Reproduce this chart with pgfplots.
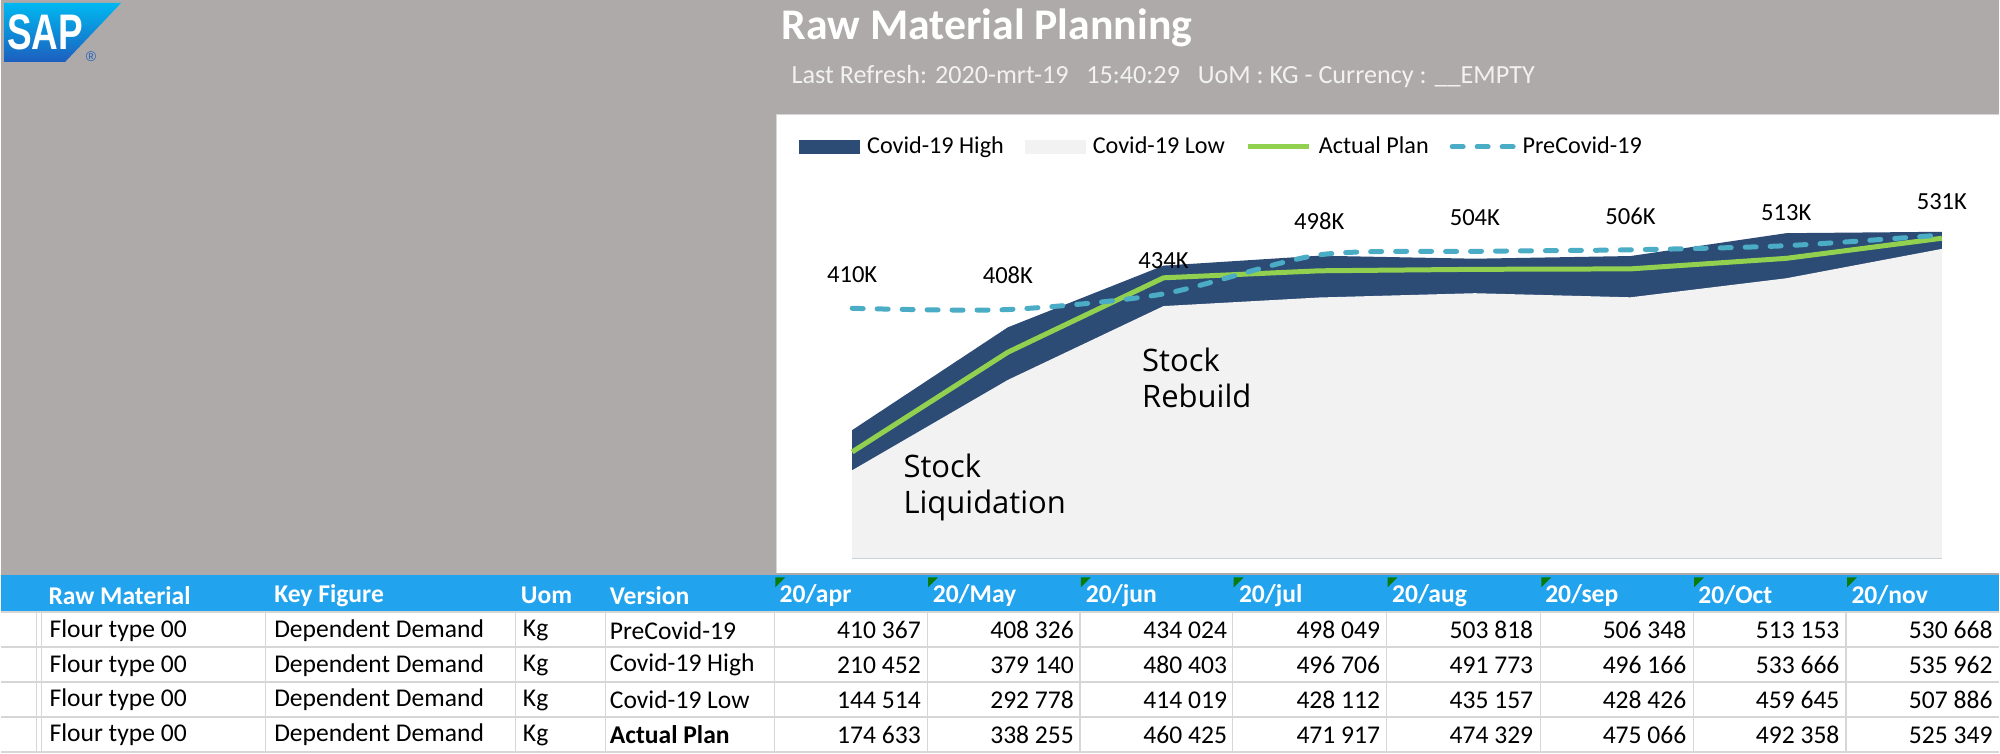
\documentclass[border=0pt]{standalone}
\usepackage{pgfplots}
\pgfplotsset{compat=1.18}
\usepackage{pgfplotstable}
\usepackage{fontspec}
\setmainfont{Carlito}
\newfontfamily\segoe{Open Sans}
\newfontfamily\arial{Liberation Sans}

\definecolor{bg}{HTML}{AEAAA9}
\definecolor{covhigh}{HTML}{2D4C75}
\definecolor{covlow}{HTML}{F2F2F2}
\definecolor{plan}{HTML}{92D050}
\definecolor{precov}{HTML}{4BACC6}
\definecolor{hdr}{HTML}{22A3EE}
\definecolor{gridc}{HTML}{D6D6D6}
\definecolor{tri}{HTML}{0A7A0A}
\definecolor{saptop}{HTML}{00B8F1}
\definecolor{sapbot}{HTML}{1D5FBE}

% x = month index (20/apr = 0 ... 20/nov = 7)
\pgfplotstableread{
x pre    high   low    plan   lbl
0 410367 210452 144514 174633 410K
1 408326 379140 292778 338255 408K
2 434024 480403 414019 460425 434K
3 498049 496706 428112 471917 498K
4 503818 491773 435157 474329 504K
5 506348 496166 428426 475066 506K
6 513153 533666 459645 492358 513K
7 530668 535962 507886 525349 531K
}\rawmat

\newcommand{\tabfont}{\fontsize{12.8}{15}\selectfont}

\begin{document}
\begin{tikzpicture}
% page furniture, in pixel units of the reference (y downwards)
\begin{scope}[x=0.5pt,y=-0.5pt,shift={(0pt,377pt)}]
  \fill[bg] (0,0) rectangle (2000,754);
  % SAP logo
  \shade[top color=saptop,bottom color=sapbot] (3,3) -- (120,3) -- (64,62) -- (3,62) -- cycle;
  \node[white,font=\arial\bfseries\fontsize{25}{25}\selectfont,xscale=0.74,inner sep=0pt] at (44,32) {SAP};
  \node[sapbot,font=\arial\fontsize{7}{7}\selectfont,inner sep=0pt] at (90,57) {\textregistered};
  % title
  \node[white,anchor=west,inner sep=0pt,font=\bfseries\fontsize{21.9}{26}\selectfont] at (781,28) {Raw Material Planning};
  \node[white!95!black,anchor=west,inner sep=0pt,font=\fontsize{13.1}{15}\selectfont] at (791,77)
    {Last Refresh: 2020-mrt-19\ \ \ 15:40:29\ \ \ UoM : KG - Currency : \_\_EMPTY};
  % chart panel
  \fill[white] (776,115) rectangle (2000,574);
  \draw[gridc,line width=0.5pt] (776,574) -- (776,115) -- (2000,115);
  % table
  \fill[hdr] (0,576) rectangle (2000,612);
  \fill[white] (0,612) rectangle (2000,754);
  \foreach \xx in {35,40,265,515,605,774,927,1080,1233,1387,1541,1694,1847}
    \draw[gridc,line width=0.6pt] (\xx,612) -- (\xx,754);
  \foreach \yy in {613,648,683,718,753}
    \draw[gridc,line width=1.2pt] (0,\yy) -- (2000,\yy);
  \foreach \xx in {774,927,1080,1233,1387,1541,1694,1847}
    \fill[tri] (\xx+1,578) -- (\xx+11,578) -- (\xx+1,588) -- cycle;
  \begin{scope}[every node/.style={anchor=west,inner sep=0pt,white,font=\tabfont\bfseries}]
    \node at (47,596) {Raw Material};
    \node at (273,596) {Key Figure};
    \node at (520,596) {Uom};
    \node at (609,596) {Version};
    \foreach \m [count=\k from 0] in {20/apr,20/May,20/jun,20/jul,20/aug,20/sep,20/Oct,20/nov}
      \node at (779+153.3*\k,596) {\m};
  \end{scope}
  \begin{scope}[every node/.style={anchor=west,inner sep=0pt,black,font=\tabfont}]
    \foreach \v [count=\r from 0] in {PreCovid-19,Covid-19 High,Covid-19 Low,\textbf{Actual Plan}} {
      \node at (48,631+35*\r) {Flour type 00};
      \node at (273,631+35*\r) {Dependent Demand};
      \node at (522,631+35*\r) {Kg};
      \node at (609,631+35*\r) {\v};
    }
  \end{scope}
  \begin{scope}[every node/.style={anchor=east,inner sep=0pt,black,font=\tabfont}]
    \foreach \n [count=\k from 0] in {410 367,408 326,434 024,498 049,503 818,506 348,513 153,530 668}
      \node at (921+153.3*\k,631) {\n};
    \foreach \n [count=\k from 0] in {210 452,379 140,480 403,496 706,491 773,496 166,533 666,535 962}
      \node at (921+153.3*\k,666) {\n};
    \foreach \n [count=\k from 0] in {144 514,292 778,414 019,428 112,435 157,428 426,459 645,507 886}
      \node at (921+153.3*\k,701) {\n};
    \foreach \n [count=\k from 0] in {174 633,338 255,460 425,471 917,474 329,475 066,492 358,525 349}
      \node at (921+153.3*\k,736) {\n};
  \end{scope}
\end{scope}

\begin{axis}[
  at={(426pt,97.5pt)}, anchor=south west,
  scale only axis, width=545.5pt, height=183pt,
  xmin=0, xmax=7, ymin=0, ymax=600000,
  axis lines=none, ticks=none, clip=false,
  legend columns=4,
  legend style={draw=none, fill=none, inner sep=0pt, outer sep=0pt,
    at={(-0.0486,1.1257)}, anchor=west,
    font=\fontsize{12.1}{14}\selectfont,
    nodes={inner sep=0pt},
    /tikz/every odd column/.append style={column sep=3.5pt},
    /tikz/every even column/.append style={column sep=10.5pt}},
  boxlegend/.style={legend image code/.code={\fill[##1] (0pt,-3.5pt) rectangle (30.5pt,3.5pt);}},
  linelegend/.style={legend image code/.code={\draw[##1] (0pt,0pt) -- (30.5pt,0pt);}},
]
\addplot[draw=none, fill=covhigh, boxlegend] table[x=x,y=high] {\rawmat} \closedcycle;
\addlegendentry{Covid-19 High}
\addplot[draw=none, fill=covlow, boxlegend] table[x=x,y=low] {\rawmat} \closedcycle;
\addlegendentry{Covid-19 Low}
\addplot[plan, line width=2.5pt, linelegend] table[x=x,y=plan] {\rawmat};
\addlegendentry{Actual Plan}
\addplot[precov, line width=2.5pt, line cap=round, dash pattern=on 5.5pt off 7pt,
  smooth, tension=0.45, linelegend,
  nodes near coords, point meta=explicit symbolic,
  every node near coord/.append style={black, inner sep=0pt, yshift=11.5pt,
    font=\fontsize{12.3}{14}\selectfont}]
  table[x=x,y=pre,meta=lbl] {\rawmat};
\addlegendentry{PreCovid-19}
\end{axis}

\node[anchor=west,inner sep=0pt,align=left,font=\segoe\fontsize{15.5}{18}\selectfont] at (571pt,188pt) {Stock\\Rebuild};
\node[anchor=west,inner sep=0pt,align=left,font=\segoe\fontsize{15.5}{18}\selectfont] at (451.5pt,133.2pt) {Stock\\Liquidation};
\end{tikzpicture}
\end{document}
